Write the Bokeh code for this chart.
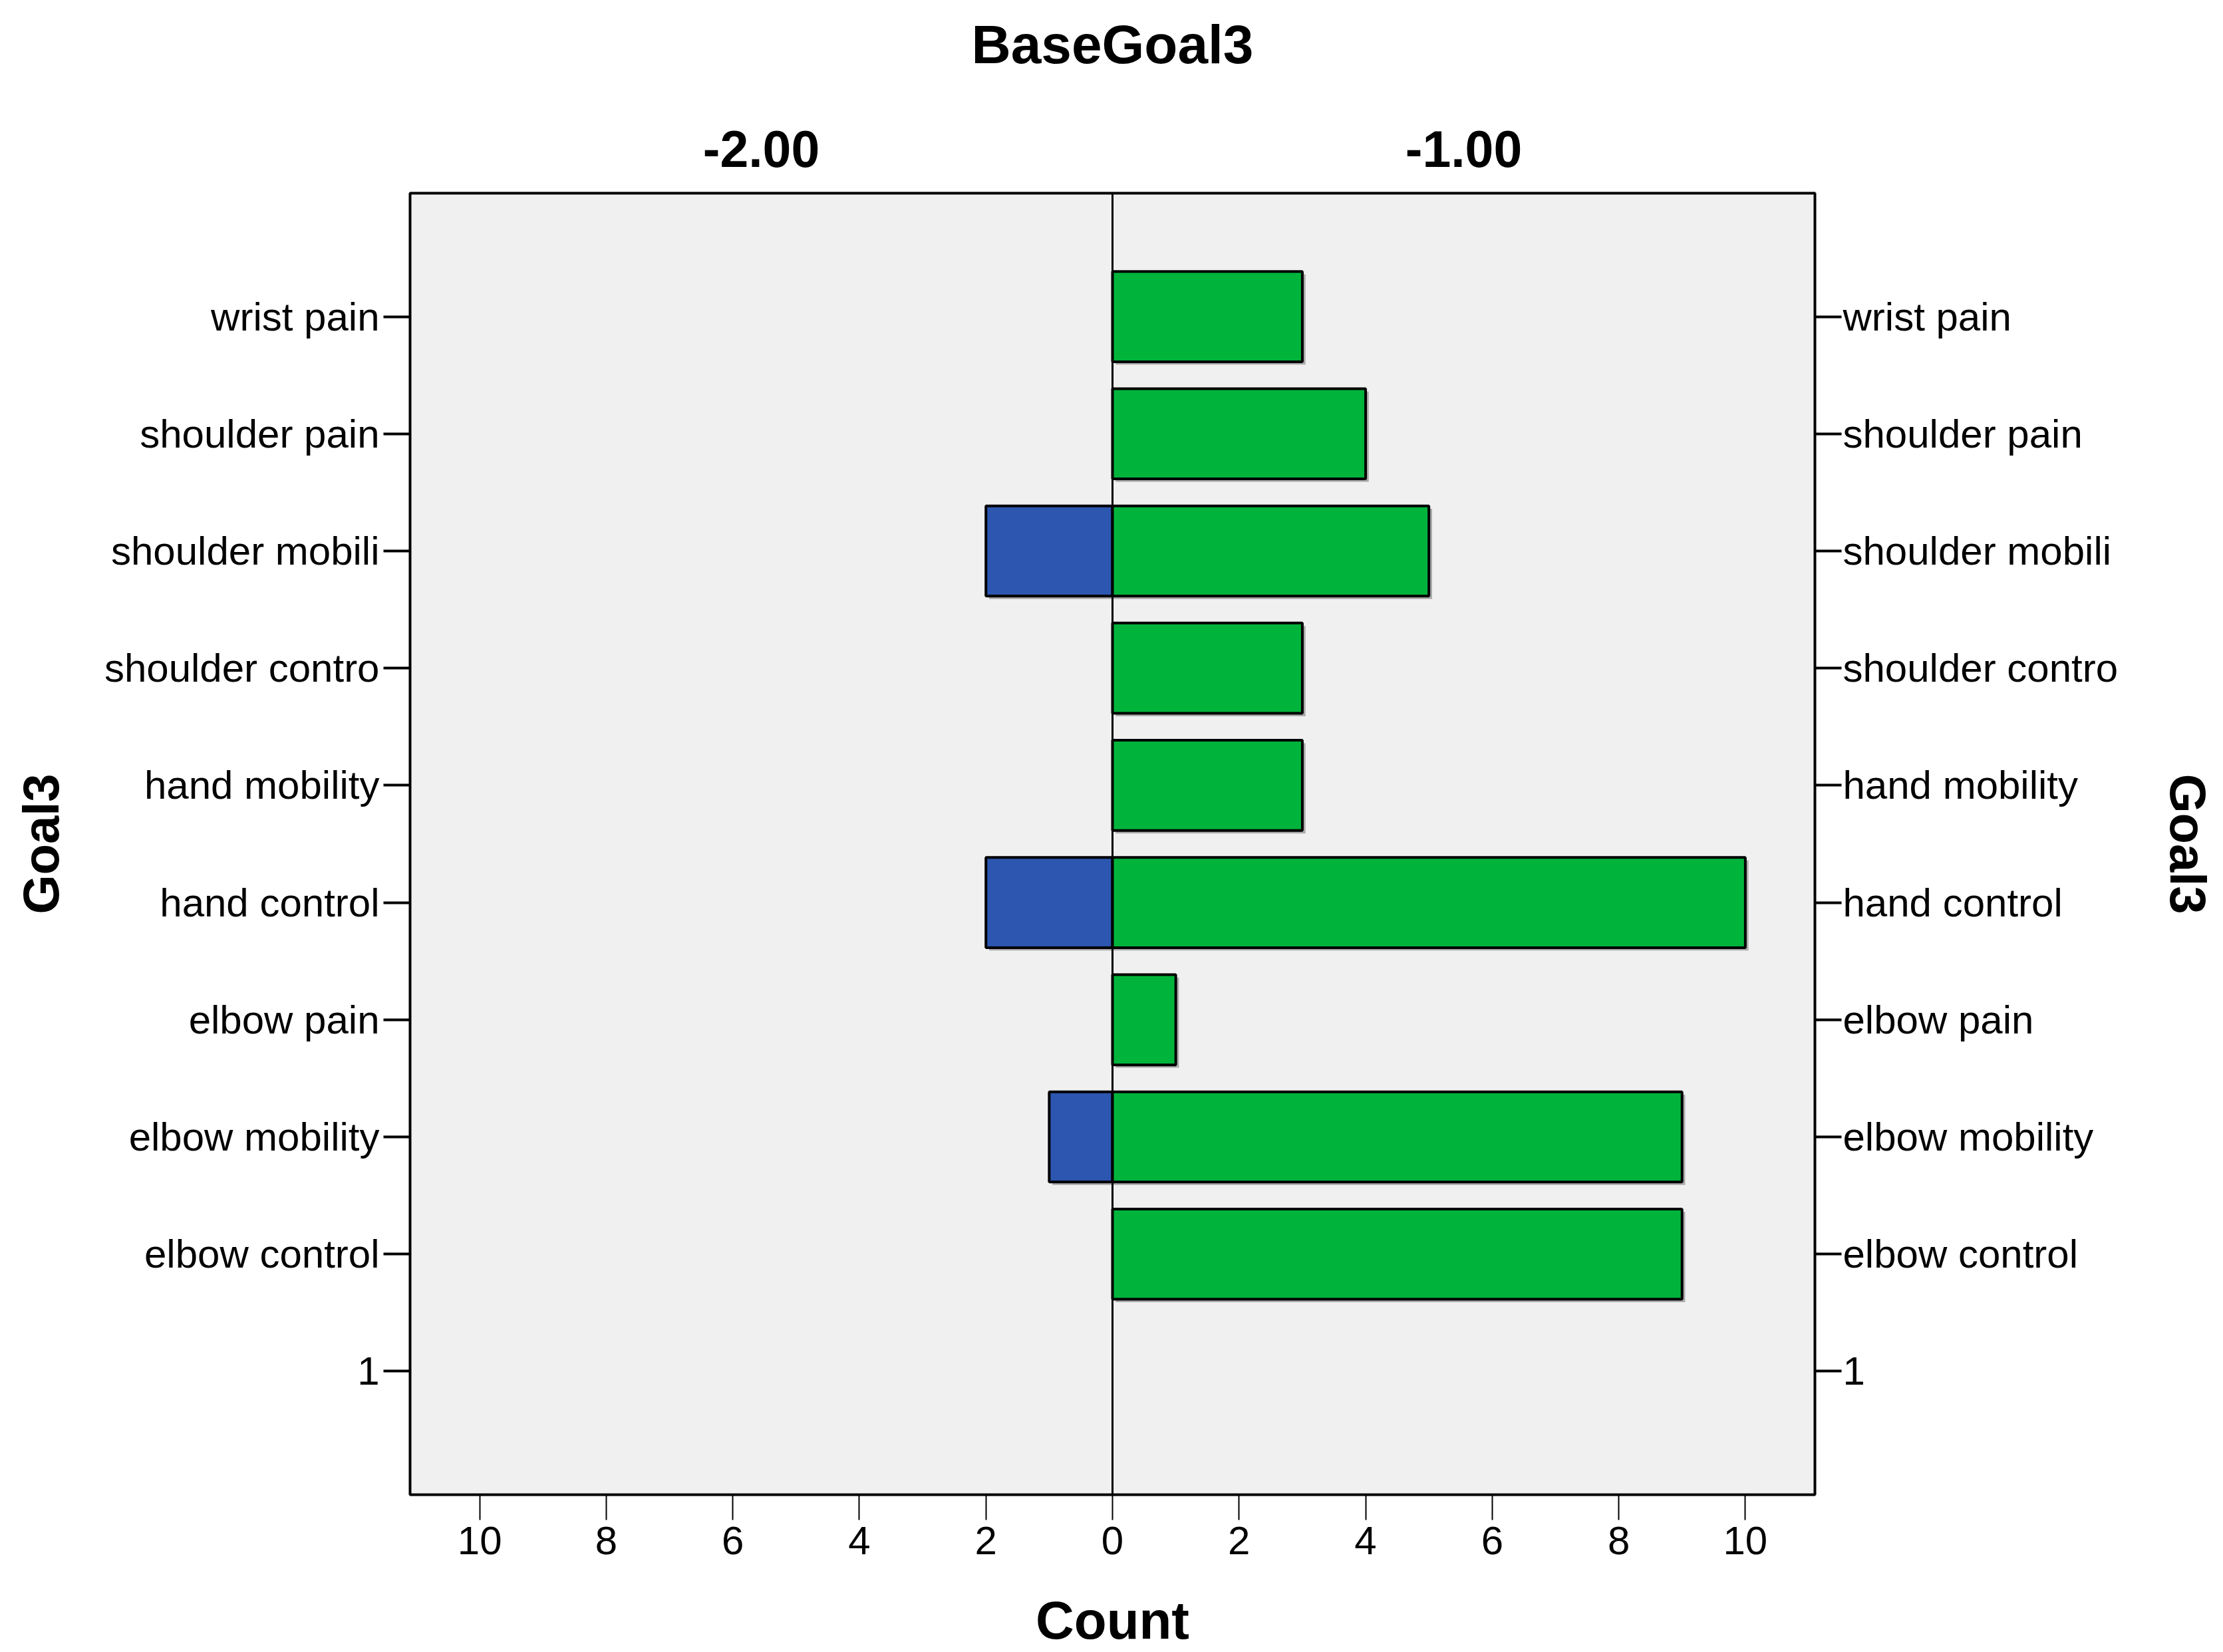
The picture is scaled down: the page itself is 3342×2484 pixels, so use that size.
from bokeh.plotting import figure
from bokeh.models import (FactorRange, Range1d, CategoricalAxis, LinearAxis,
                          FixedTicker, Span, ColumnDataSource)
from bokeh.transform import dodge
from bokeh.embed import file_html
from bokeh.resources import INLINE

# ---- data ----
goal_cats = ["wrist pain", "shoulder pain", "shoulder mobili", "shoulder contro",
             "hand mobility", "hand control", "elbow pain", "elbow mobility",
             "elbow control", "1"]
count_base_m2 = [0, 0, 2, 0, 0, 2, 0, 1, 0, 0]   # BaseGoal3 = -2.00 (left panel)
count_base_m1 = [3, 4, 5, 3, 3, 10, 1, 9, 9, 0]  # BaseGoal3 = -1.00 (right panel)
panels = ["-2.00", "-1.00"]
count_ticks = [-10, -8, -6, -4, -2, 0, 2, 4, 6, 8, 10]
count_tick_labels = ["10", "8", "6", "4", "2", "0", "2", "4", "6", "8", "10"]

FONT = "Liberation Sans"
GREEN = "#00B43B"
BLUE = "#2C56AF"

factors = list(reversed(goal_cats))

p = figure(frame_width=2112, frame_height=1957, output_backend="svg",
           toolbar_location=None,
           x_range=Range1d(-11.1, 11.1),
           y_range=FactorRange(factors=factors, range_padding=0.553,
                               range_padding_units="absolute"),
           x_axis_location=None, y_axis_location=None)
p.min_border_left = 616
p.min_border_right = 610
p.min_border_top = 290
p.min_border_bottom = 230
p.background_fill_color = "#F0F0F0"
p.border_fill_color = "white"
p.outline_line_color = "black"
p.outline_line_width = 4
p.grid.visible = False

# bars
src_l = ColumnDataSource(dict(
    y=[c for c, v in zip(goal_cats, count_base_m2) if v > 0],
    left=[-v for v in count_base_m2 if v > 0],
    right=[0 for v in count_base_m2 if v > 0]))
src_r = ColumnDataSource(dict(
    y=[c for c, v in zip(goal_cats, count_base_m1) if v > 0],
    left=[0 for v in count_base_m1 if v > 0],
    right=[v for v in count_base_m1 if v > 0]))

# soft drop shadow (right / bottom)
for src in (src_l, src_r):
    p.hbar(y=dodge("y", -0.025, range=p.y_range), left=dodge("left", 0.05),
           right=dodge("right", 0.05), height=0.77, source=src,
           fill_color="#ABABAB", line_color=None)

p.hbar(y="y", left="left", right="right", height=0.77, source=src_l,
       fill_color=BLUE, line_color="black", line_width=4)
p.hbar(y="y", left="left", right="right", height=0.77, source=src_r,
       fill_color=GREEN, line_color="black", line_width=4)

p.add_layout(Span(location=0, dimension="height", line_color="black", line_width=3))

def style_axis(ax, label_size="60px"):
    ax.axis_line_color = None
    ax.major_label_text_font = FONT
    ax.major_label_text_font_size = label_size
    ax.major_label_text_color = "black"
    ax.axis_label_text_font = FONT
    ax.axis_label_text_font_style = "bold"
    ax.axis_label_text_color = "black"
    ax.major_tick_line_color = "black"
    ax.minor_tick_line_color = None

# bottom axis
xb = LinearAxis(ticker=FixedTicker(ticks=count_ticks),
                major_label_overrides=dict(zip(count_ticks, count_tick_labels)),
                axis_label="Count")
style_axis(xb)
xb.major_tick_in = 0
xb.major_tick_out = 38
xb.major_tick_line_width = 2
xb.major_label_standoff = 10
xb.axis_label_text_font_size = "80px"
xb.axis_label_standoff = 52
p.add_layout(xb, "below")

# top axis: panel labels, each centred over its half of the frame
p.extra_x_ranges = {"panel": Range1d(0, 2 * len(panels))}
panel_ticks = [2 * i + 1 for i in range(len(panels))]
xt = LinearAxis(x_range_name="panel", axis_label="BaseGoal3",
                ticker=FixedTicker(ticks=panel_ticks),
                major_label_overrides=dict(zip(panel_ticks, panels)))
style_axis(xt, "77px")
xt.major_label_text_font_style = "bold"
xt.major_tick_line_color = None
xt.major_tick_in = 0
xt.major_tick_out = 0
xt.major_label_standoff = 40
xt.axis_label_text_font_size = "82px"
xt.axis_label_standoff = 82
p.add_layout(xt, "above")

# left / right category axes
yl = CategoricalAxis(axis_label="Goal3")
style_axis(yl)
yl.major_tick_in = 0
yl.major_tick_out = 40
yl.major_tick_line_width = 4
yl.major_label_standoff = 6
yl.axis_label_text_font_size = "76px"
yl.axis_label_standoff = 50
p.add_layout(yl, "left")

yr = CategoricalAxis(axis_label="Goal3")
style_axis(yr)
yr.major_tick_in = 0
yr.major_tick_out = 40
yr.major_tick_line_width = 4
yr.major_label_standoff = 2
yr.axis_label_text_font_size = "76px"
yr.axis_label_standoff = 60
p.add_layout(yr, "right")

open("out.html", "w").write(file_html(p, INLINE))
